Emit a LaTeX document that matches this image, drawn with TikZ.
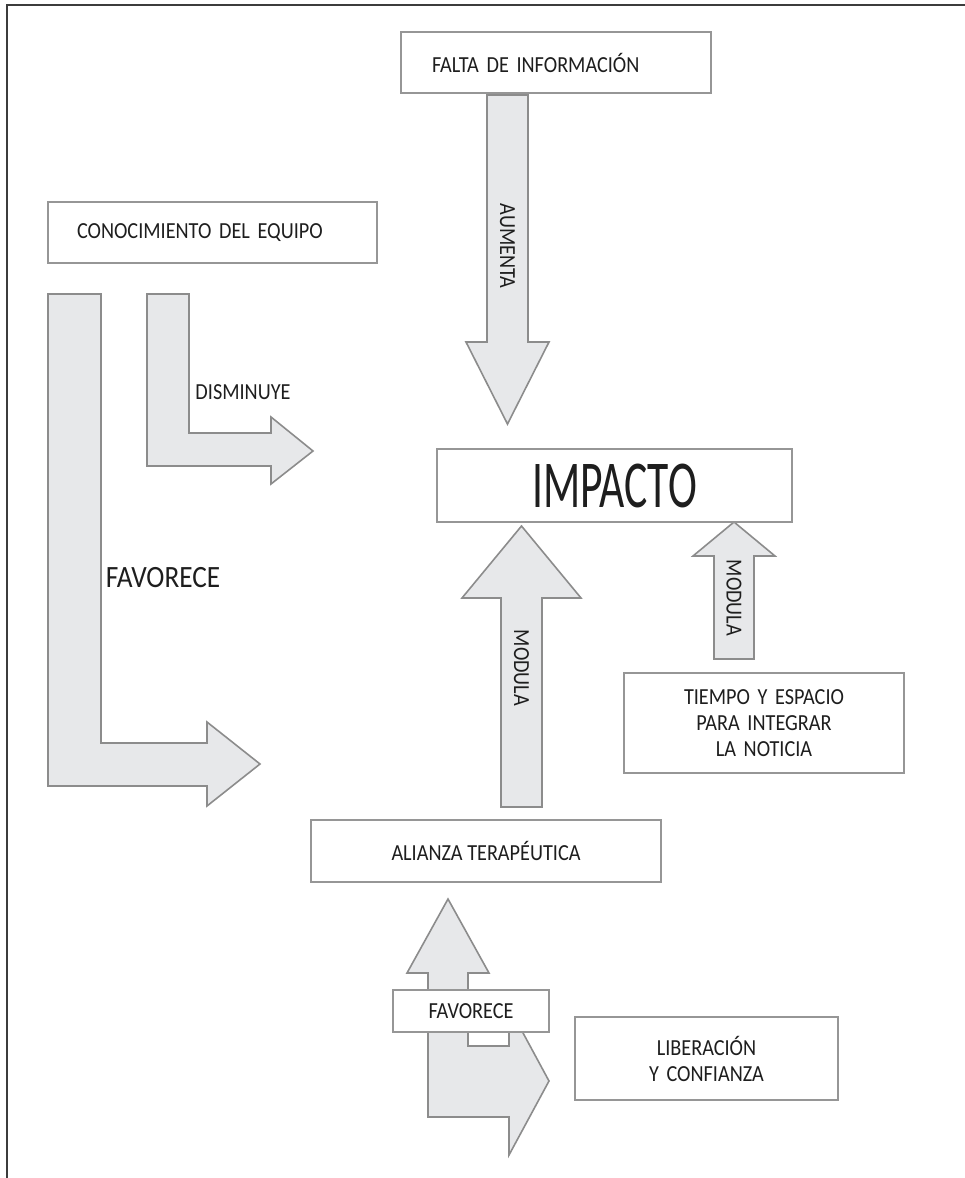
\documentclass[tikz,border=0pt]{standalone}
\usepackage{fontspec}
\setmainfont{Carlito}[FakeStretch=0.88]
\newfontfamily\impactofont{Carlito}[FakeStretch=0.65]
\usepackage{tikz}
\usetikzlibrary{positioning}
\definecolor{FrameGray}{RGB}{60,60,60}
\definecolor{BoxGray}{RGB}{150,150,150}
\definecolor{ArrowFill}{RGB}{231,232,234}
\definecolor{ArrowLine}{RGB}{140,140,140}
\definecolor{InkBlack}{RGB}{30,30,30}
\newcommand{\lbl}{\fontsize{23}{26}\selectfont}

\begin{document}
\begin{tikzpicture}[
  x=1pt,y=-1pt,
  box/.style={rectangle,draw=BoxGray,line width=1.8pt,fill=white,inner sep=0pt,font=\lbl,text=InkBlack,align=center},
  blockarr/.style={draw=ArrowLine,fill=ArrowFill,line width=1.6pt,line join=miter},
  vtxt/.style={font=\lbl,text=InkBlack,rotate=-90,inner sep=0pt},
  htxt/.style={font=\lbl,text=InkBlack,inner sep=0pt}
]
  \useasboundingbox (0,0) rectangle (965,1178);
  \draw[FrameGray,line width=2.2pt] (7,1178) -- (7,5) -- (965,5);

  % block arrows
  \draw[blockarr] (487,95) -- (528,95) -- (528,342) -- (549,342) -- (507.5,424) -- (466,342) -- (487,342) -- cycle;
  \draw[blockarr] (501,807) -- (542,807) -- (542,598) -- (581,598) -- (521.5,526) -- (462,598) -- (501,598) -- cycle;
  \draw[blockarr] (714,659) -- (754,659) -- (754,556) -- (775,556) -- (734,522) -- (693,556) -- (714,556) -- cycle;
  \draw[blockarr] (147,294) -- (189,294) -- (189,433) -- (271,433) -- (271,417) -- (313,451) -- (271,484) -- (271,466) -- (147,466) -- cycle;
  \draw[blockarr] (48,294) -- (101,294) -- (101,743) -- (207,743) -- (207,722) -- (260,764) -- (207,806) -- (207,786) -- (48,786) -- cycle;
  \draw[blockarr] (448,899) -- (489,973) -- (468,973) -- (468,1046) -- (509,1046) -- (509,1007) -- (549,1081) -- (509,1155) -- (509,1117) -- (428,1117) -- (428,973) -- (407,973) -- cycle;

  % boxes
  \node[box,minimum width=310,minimum height=61,text width=248,inner xsep=31,align=left] (falta) at (556,62.5) {FALTA DE INFORMACIÓN};
  \node[box,minimum width=329,minimum height=61,text width=271,inner xsep=29,align=left] (equipo) at (212.5,232.5) {CONOCIMIENTO DEL EQUIPO};
  \node[box,minimum width=355,minimum height=73,font=\impactofont\fontsize{67}{70}\selectfont] (impacto) at (614.5,485.5) {IMPACTO};
  \node[box,minimum width=280,minimum height=100,text width=260] (tiempo) at (764,723) {TIEMPO Y ESPACIO\\PARA INTEGRAR\\LA NOTICIA};
  \node[box,minimum width=350,minimum height=62] (alianza) at (486,851) {ALIANZA TERAPÉUTICA};
  \node[box,minimum width=263,minimum height=83,text width=240] (liberacion) at (706.5,1058.5) {LIBERACIÓN\\Y CONFIANZA};
  \node[box,minimum width=156,minimum height=42] (favbox) at (471,1011) {FAVORECE};

  % arrow labels
  \node[vtxt] (aumenta) at (507.5,246) {AUMENTA};
  \node[vtxt] (modulaC) at (521.5,668) {MODULA};
  \node[vtxt] (modulaR) at (734,598) {MODULA};
  \node[htxt] (disminuye) at (243,392) {DISMINUYE};
  \node[htxt,font=\fontsize{31}{34}\selectfont] (favorece) at (163,578) {FAVORECE};
\end{tikzpicture}
\end{document}
